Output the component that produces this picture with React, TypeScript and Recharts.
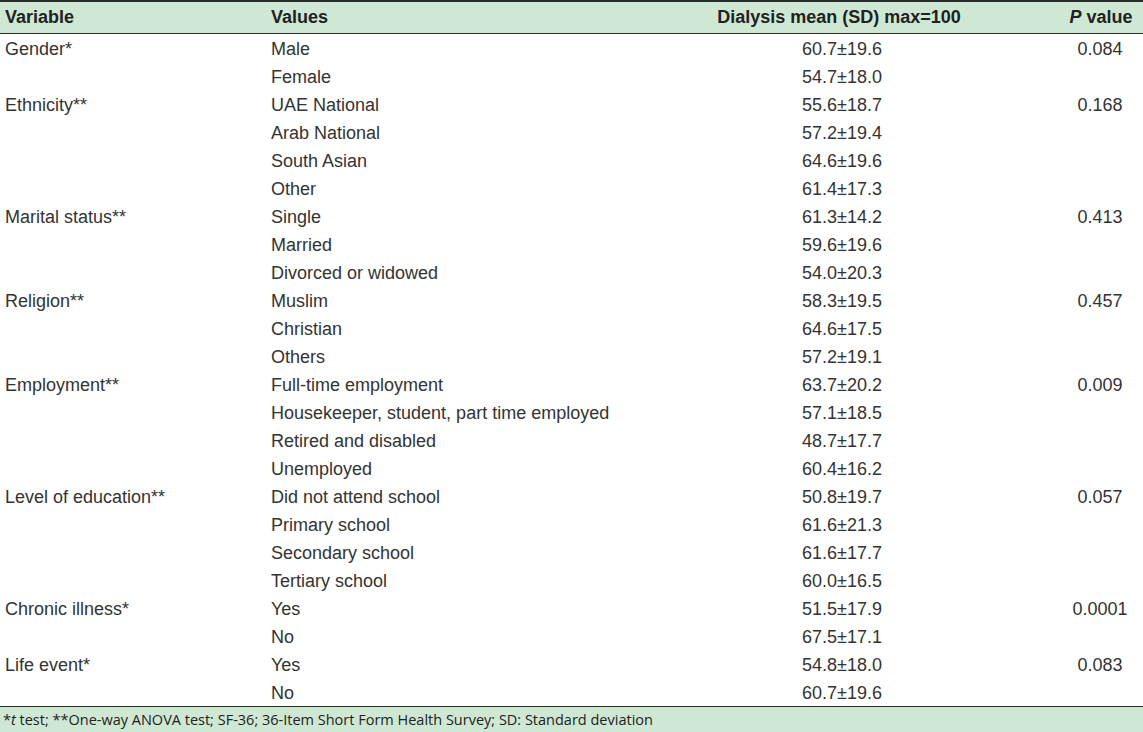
import { BarChart, Bar, XAxis, YAxis } from 'recharts';

// table content, one entry per row
const variables = [
    'Gender*', '',
    'Ethnicity**', '', '', '',
    'Marital status**', '', '',
    'Religion**', '', '',
    'Employment**', '', '', '',
    'Level of education**', '', '', '',
    'Chronic illness*', '',
    'Life event*', '',
];

const categories = [
    'Male', 'Female',
    'UAE National', 'Arab National', 'South Asian', 'Other',
    'Single', 'Married', 'Divorced or widowed',
    'Muslim', 'Christian', 'Others',
    'Full-time employment', 'Housekeeper, student, part time employed', 'Retired and disabled', 'Unemployed',
    'Did not attend school', 'Primary school', 'Secondary school', 'Tertiary school',
    'Yes', 'No',
    'Yes', 'No',
];

const means = [
    60.7, 54.7,
    55.6, 57.2, 64.6, 61.4,
    61.3, 59.6, 54.0,
    58.3, 64.6, 57.2,
    63.7, 57.1, 48.7, 60.4,
    50.8, 61.6, 61.6, 60.0,
    51.5, 67.5,
    54.8, 60.7,
];

const sds = [
    19.6, 18.0,
    18.7, 19.4, 19.6, 17.3,
    14.2, 19.6, 20.3,
    19.5, 17.5, 19.1,
    20.2, 18.5, 17.7, 16.2,
    19.7, 21.3, 17.7, 16.5,
    17.9, 17.1,
    18.0, 19.6,
];

const pValues = [
    '0.084', '',
    '0.168', '', '', '',
    '0.413', '', '',
    '0.457', '', '',
    '0.009', '', '', '',
    '0.057', '', '', '',
    '0.0001', '',
    '0.083', '',
];

const rows = categories.map((c, i) => ({
    id: `r${i}`,
    variable: variables[i],
    value: c,
    mean: means[i],
    sd: sds[i],
    p: pValues[i],
}));

const WIDTH = 1143;
const HEIGHT = 732;
const GREEN = '#cfe8d4';
const TEXT = '#333333';
const FONT = '"Liberation Sans", Arial, sans-serif';
const FS = 18;

// column positions
const COL_VAR = 5;
const COL_VAL = 271;
const COL_MEAN = 842;
const COL_P = 1100;

const RowTick = (props: any) => {
    const { y, index } = props;
    const r = rows[index];
    if (!r) return null;
    const ty = y + 1;
    const common = { fill: TEXT, fontSize: FS, fontFamily: FONT, dominantBaseline: 'central' as const };
    return (
        <g>
            <text x={COL_VAR} y={ty} textAnchor="start" {...common}>{r.variable}</text>
            <text x={COL_VAL} y={ty} textAnchor="start" {...common}>{r.value}</text>
            <text x={COL_MEAN} y={ty} textAnchor="middle" {...common}>{`${r.mean.toFixed(1)}±${r.sd.toFixed(1)}`}</text>
            <text x={COL_P} y={ty} textAnchor="middle" {...common}>{r.p}</text>
        </g>
    );
};

export default function App() {
    const headStyle = {
        position: 'absolute' as const,
        top: 0,
        height: 31,
        lineHeight: '31px',
        fontWeight: 700,
        fontSize: FS,
        color: '#222',
        whiteSpace: 'nowrap' as const,
    };
    return (
        <div style={{ position: 'absolute', left: 0, top: 0, width: WIDTH, height: HEIGHT, background: '#fff', fontFamily: FONT, overflow: 'hidden' }}>
            <div style={{ position: 'absolute', left: 0, top: 0, width: WIDTH, height: 2, background: '#2b2b2b' }} />
            <div style={{ position: 'absolute', left: 0, top: 2, width: WIDTH, height: 31, background: GREEN }}>
                <span style={{ ...headStyle, left: COL_VAR }}>Variable</span>
                <span style={{ ...headStyle, left: COL_VAL }}>Values</span>
                <span style={{ ...headStyle, left: 639, width: 400, textAlign: 'center' }}>Dialysis mean (SD) max=100</span>
                <span style={{ ...headStyle, left: 1001, width: 200, textAlign: 'center' }}><i>P</i> value</span>
            </div>
            <div style={{ position: 'absolute', left: 0, top: 33, width: WIDTH, height: 1, background: '#2b2b2b' }} />
            <div style={{ position: 'absolute', left: 0, top: 34 }}>
                <BarChart
                    width={WIDTH}
                    height={672}
                    data={rows}
                    layout="vertical"
                    margin={{ top: 0, right: 0, bottom: 0, left: 0 }}
                >
                    <XAxis type="number" domain={[0, 100]} hide />
                    <YAxis
                        type="category"
                        dataKey="id"
                        width={1}
                        axisLine={false}
                        tickLine={false}
                        interval={0}
                        tick={<RowTick />}
                    />
                    <Bar dataKey="mean" fill="transparent" isAnimationActive={false} />
                </BarChart>
            </div>
            <div style={{ position: 'absolute', left: 0, top: 706, width: WIDTH, height: 1, background: '#2b2b2b' }} />
            <div style={{ position: 'absolute', left: 0, top: 707, width: WIDTH, height: 25, background: GREEN }}>
                <span style={{ position: 'absolute', left: 3, top: 0, lineHeight: '25px', fontSize: 14.5, color: '#222', whiteSpace: 'nowrap', fontFamily: '"Open Sans", sans-serif' }}>
                    *<i>t</i> test; **One-way ANOVA test; SF-36; 36-Item Short Form Health Survey; SD: Standard deviation
                </span>
            </div>
        </div>
    );
}
